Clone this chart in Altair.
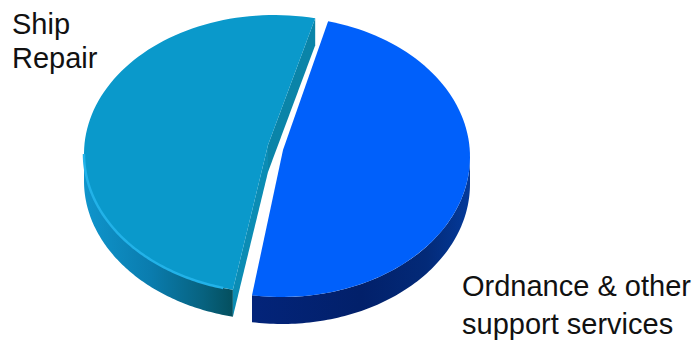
import math
import altair as alt
import pandas as pd

# Pie contents
labels = ["Ship Repair", "Ordnance & other support services"]
shares = [50.7, 49.3]

# Drawing of the tilted, exploded disc, in page units
W, H = 697, 340
DEPTH = 27
PAD_DEG = 2.5
SHIP = dict(cx=274, cy=154, rx=190, ry=139, apex=(268, 145), start=192.5)
ORD = dict(cx=282, cy=157, rx=188, ry=140, apex=(283, 150), start=14.2)

ship_sweep = shares[0] * 3.6 - PAD_DEG
ord_sweep = shares[1] * 3.6 - PAD_DEG


def arc(s, a0, a1, dy=0, n=90):
    """Points along a slice's rim; angles run clockwise from twelve o'clock."""
    pts = []
    for i in range(n + 1):
        t = math.radians(a0 + (a1 - a0) * i / n)
        pts.append((s["cx"] + s["rx"] * math.sin(t), s["cy"] - s["ry"] * math.cos(t) + dy))
    return pts


def scales():
    return (
        alt.X("x:Q", axis=None, scale=alt.Scale(domain=[0, W], nice=False, zero=False)),
        alt.Y("y:Q", axis=None, scale=alt.Scale(domain=[H, 0], nice=False, zero=False)),
    )


def poly(pts, fill):
    df = pd.DataFrame({"x": [p[0] for p in pts], "y": [p[1] for p in pts], "i": range(len(pts))})
    x, y = scales()
    return alt.Chart(df).mark_line(fill=fill, strokeWidth=0, interpolate="linear", clip=False).encode(
        x=x, y=y, order="i:Q"
    )


def outline(pts, color, width):
    df = pd.DataFrame({"x": [p[0] for p in pts], "y": [p[1] for p in pts], "i": range(len(pts))})
    x, y = scales()
    return alt.Chart(df).mark_line(color=color, strokeWidth=width).encode(x=x, y=y, order="i:Q")


def hgrad(stops):
    return alt.Gradient(
        gradient="linear",
        x1=0, x2=1, y1=0, y2=0,
        stops=[alt.GradientStop(offset=o, color=c) for o, c in stops],
    )


def wall(s, a0, a1):
    return arc(s, a0, a1) + arc(s, a1, a0, dy=DEPTH)


ship_a0 = SHIP["start"]
ship_a1 = ship_a0 + ship_sweep
ord_a0 = ORD["start"]
ord_a1 = ord_a0 + ord_sweep

# Ship Repair wedge: outer wall, exposed cut faces, top face, lit edge
ship_wall = poly(
    wall(SHIP, ship_a0, 270),
    hgrad([(0, "#0f95cc"), (0.45, "#0a7cae"), (0.8, "#07627f"), (1, "#044f5e")]),
)
ship_end = arc(SHIP, ship_a1, ship_a1, n=1)[0]
ship_tip = arc(SHIP, ship_a0, ship_a0, n=1)[0]
ax, ay = SHIP["apex"]
ship_cut_upper = poly(
    [ship_end, (ax, ay), (ax, ay + DEPTH), (ship_end[0], ship_end[1] + DEPTH)],
    "#0a84a8",
)
ship_cut_lower = poly(
    [(ax, ay), (ax, ay + DEPTH), (ship_tip[0], ship_tip[1] + DEPTH), ship_tip],
    "#0b8cb4",
)
ship_top = poly([(ax, ay)] + arc(SHIP, ship_a0, ship_a1), "#0a99cb")
ship_edge = outline(arc(SHIP, ship_a0 + 3, 270), "#22b2e8", 2.5)

# Ordnance wedge: outer wall and top face
ord_wall = poly(
    wall(ORD, 90, ord_a1),
    hgrad([(0, "#03247a"), (0.5, "#02206a"), (0.8, "#032a78"), (1, "#043a9a")]),
)
bx, by = ORD["apex"]
ord_top = poly([(bx, by)] + arc(ORD, ord_a0, ord_a1), "#0060fb")

# Category labels, one row per drawn line
label_lines = ["Ship", "Repair", "Ordnance & other", "support services"]
label_x = [12, 12, 462, 462]
label_y = [25, 59, 287, 325]
x_enc, y_enc = scales()
text = alt.Chart(pd.DataFrame({"t": label_lines, "x": label_x, "y": label_y})).mark_text(
    font="Liberation Sans", fontSize=29, align="left", baseline="middle", color="#111111"
).encode(x=x_enc, y=y_enc, text="t:N")

chart = alt.layer(
    ship_wall, ship_cut_upper, ship_cut_lower, ship_top, ship_edge, ord_wall, ord_top, text
).properties(width=W, height=H, padding=0, autosize=alt.AutoSizeParams(type="none"), background="white"
).configure_view(stroke=None)

chart.save("out.html", embed_options={"renderer": "svg", "actions": False})
